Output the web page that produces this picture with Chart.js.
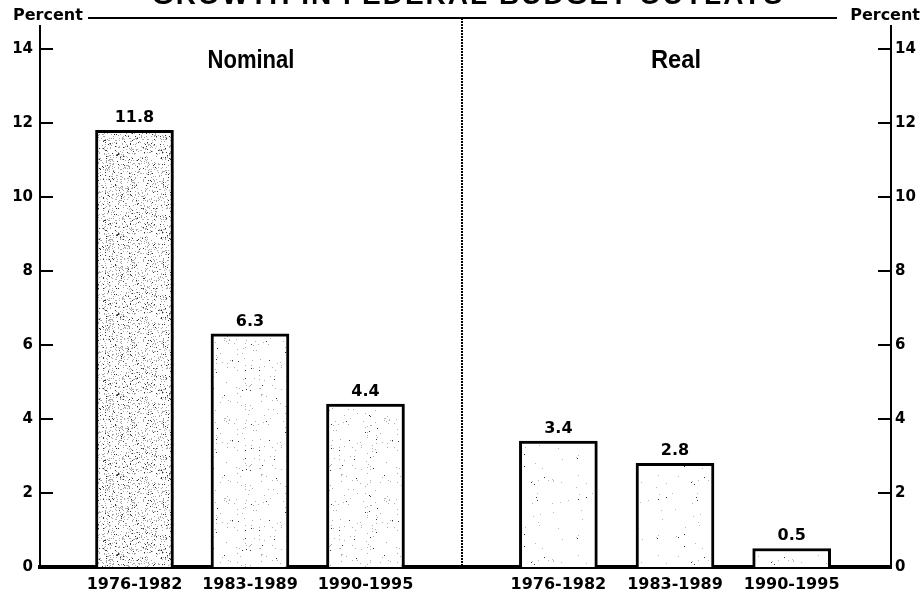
<!DOCTYPE html>
<html>
<head>
<meta charset="utf-8">
<title>Growth in Federal Budget Outlays</title>
<script src="https://cdn.jsdelivr.net/npm/chart.js@4"></script>
<style>
  html, body { margin: 0; padding: 0; background: #fff; }
  #wrap { width: 922px; height: 599px; }
</style>
</head>
<body>
<div id="wrap"><canvas id="chart" width="922" height="599"></canvas></div>
<script>
// Average annual growth in federal outlays, percent
const categories = ['1976-1982', '1983-1989', '1990-1995'];
const nominalGrowth = [11.8, 6.3, 4.4];
const realGrowth = [3.4, 2.8, 0.5];
const yTicks = [0, 2, 4, 6, 8, 10, 12, 14];
const panelTitles = ['Nominal', 'Real'];
const chartTitle = 'GROWTH IN FEDERAL BUDGET OUTLAYS';
const axisTitle = 'Percent';

// Slot layout on the linear x axis: two panels of three bars each
const nominalSlots = categories.map((_, i) => i);
const realSlots = categories.map((_, i) => 3.67 + i * 1.01);
const dividerSlot = 2.833;
const allSlots = nominalSlots.concat(realSlots);

const NUM_FONT = "'DejaVu Sans', sans-serif";
const HEAD_FONT = "'Liberation Sans', Arial, sans-serif";

const canvas = document.getElementById('chart');
const ctx = canvas.getContext('2d');

// Stippled halftone fill used for the bars
function stipple(dots, seed, tone) {
  const size = 80;
  const c = document.createElement('canvas');
  c.width = c.height = size;
  const g = c.getContext('2d');
  g.fillStyle = '#fff';
  g.fillRect(0, 0, size, size);
  let s = seed;
  const next = () => { s = (s * 1103515245 + 12345) % 2147483648; return s / 2147483648; };
  for (let i = 0; i < dots; i++) {
    const x = Math.floor(next() * size);
    const y = Math.floor(next() * size);
    g.fillStyle = next() < 0.2 ? '#333' : tone;
    g.fillRect(x, y, 1, 1);
  }
  return ctx.createPattern(c, 'repeat');
}

const denseFill = stipple(1100, 17, '#a8a8a8');
const lightFill = stipple(150, 91, '#b0b0b0');
const faintFill = stipple(45, 53, '#b8b8b8');

const toPoints = (slots, values) => values.map((v, i) => ({ x: slots[i], y: v }));

const barStyle = {
  borderColor: '#000',
  borderWidth: 3,
  borderSkipped: 'start',
  barThickness: 78,
  grouped: false
};

// Inward tick marks on both value axes
const innerTicks = {
  id: 'innerTicks',
  afterDraw(chart) {
    const c = chart.ctx;
    const a = chart.chartArea;
    c.save();
    c.strokeStyle = '#000';
    c.lineWidth = 2;
    yTicks.forEach(v => {
      if (v === 0) return;
      const py = Math.round(chart.scales.y.getPixelForValue(v));
      c.beginPath();
      c.moveTo(a.left, py); c.lineTo(a.left + 13, py);
      c.moveTo(a.right - 13, py); c.lineTo(a.right, py);
      c.stroke();
    });
    c.restore();
  }
};

// Headings, frame line, panel divider and value labels
const annotations = {
  id: 'annotations',
  afterDraw(chart) {
    const c = chart.ctx;
    const a = chart.chartArea;
    const xs = chart.scales.x;
    c.save();

    // chart heading, running off the top edge
    c.fillStyle = '#000';
    c.font = `bold 28px ${HEAD_FONT}`;
    c.textAlign = 'center';
    c.textBaseline = 'alphabetic';
    c.letterSpacing = '2px';
    c.fillText(chartTitle, 468, 4);
    c.letterSpacing = '0px';

    // unit captions at both ends of the frame line
    c.font = `bold 16px ${NUM_FONT}`;
    c.textAlign = 'left';
    c.fillText(axisTitle, 13, 20);
    c.textAlign = 'right';
    c.fillText(axisTitle, 920, 20);

    c.strokeStyle = '#000';
    c.lineWidth = 2;
    c.beginPath();
    c.moveTo(88, 18); c.lineTo(837, 18);
    c.stroke();

    // dotted panel divider
    const dx = Math.round(xs.getPixelForValue(dividerSlot));
    c.lineWidth = 2;
    c.setLineDash([2, 1]);
    c.beginPath();
    c.moveTo(dx, 18); c.lineTo(dx, a.bottom - 2);
    c.stroke();
    c.setLineDash([]);

    // panel headings over the middle bar of each panel
    c.textAlign = 'center';
    c.font = `bold 25px ${HEAD_FONT}`;
    chart.data.datasets.forEach((ds, di) => {
      const mid = chart.getDatasetMeta(di).data[1];
      c.fillText(panelTitles[di], mid.x + 1, 68, di === 0 ? 87 : 50);
    });

    // value labels above each bar
    c.font = `bold 16px ${NUM_FONT}`;
    chart.data.datasets.forEach((ds, di) => {
      const meta = chart.getDatasetMeta(di);
      meta.data.forEach((bar, i) => {
        c.fillText(ds.data[i].y.toFixed(1), bar.x, bar.y - 8);
      });
    });
    c.restore();
  }
};

const valueAxis = (position, width, pad) => ({
  type: 'linear',
  position,
  min: 0,
  max: 14.62,
  afterBuildTicks(scale) { scale.ticks = yTicks.map(v => ({ value: v })); },
  afterFit(scale) { scale.width = width; },
  grid: { display: false, drawTicks: false },
  border: { display: true, width: 2, color: '#000' },
  ticks: {
    padding: pad,
    color: '#000',
    font: { family: NUM_FONT, size: 15, weight: 'bold' }
  }
});

new Chart(canvas, {
  type: 'bar',
  data: {
    datasets: [
      Object.assign({
        label: panelTitles[0],
        data: toPoints(nominalSlots, nominalGrowth),
        backgroundColor: [denseFill, lightFill, lightFill]
      }, barStyle),
      Object.assign({
        label: panelTitles[1],
        data: toPoints(realSlots, realGrowth),
        backgroundColor: [faintFill, faintFill, faintFill]
      }, barStyle)
    ]
  },
  options: {
    responsive: false,
    animation: false,
    layout: { padding: { top: 26, left: 0, right: 0, bottom: 0 } },
    plugins: { legend: { display: false }, tooltip: { enabled: false } },
    scales: {
      x: {
        type: 'linear',
        min: -0.818,
        max: 6.55,
        offset: false,
        z: 1,
        afterBuildTicks(scale) { scale.ticks = allSlots.map(v => ({ value: v })); },
        afterFit(scale) { scale.height = 32; },
        grid: { display: false, drawTicks: false },
        border: { display: true, width: 4, color: '#000' },
        ticks: {
          padding: 8,
          color: '#000',
          maxRotation: 0,
          autoSkip: false,
          font: { family: NUM_FONT, size: 16, weight: 'bold' },
          callback: (value, index) => categories[index % categories.length]
        }
      },
      y: valueAxis('left', 40, 7),
      y2: valueAxis('right', 31, 4)
    }
  },
  plugins: [innerTicks, annotations]
});
</script>
</body>
</html>
